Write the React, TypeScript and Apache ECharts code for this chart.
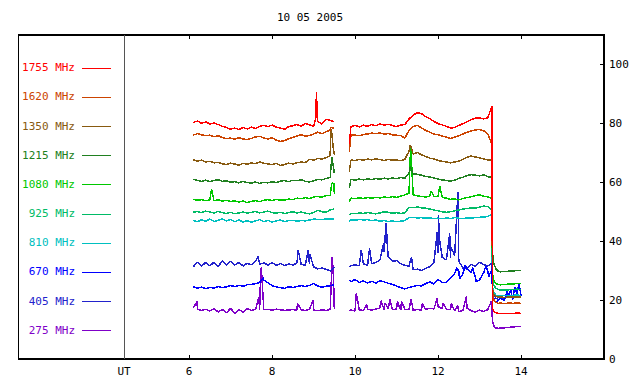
import { useEffect, useRef } from "react";
import * as echarts from "echarts";

const TITLE = "10 05 2005";
const X_TICKS = [6, 8, 10, 12, 14];
const Y_TICKS = [0, 20, 40, 60, 80, 100];
const NAMES = ["1755 MHz", "1620 MHz", "1350 MHz", "1215 MHz", "1080 MHz", "925 MHz", "810 MHz", "670 MHz", "405 MHz", "275 MHz"];
const COLORS = ["#ff0000", "#cc4400", "#885a10", "#208020", "#00c800", "#00bb66", "#00c0c0", "#0000ff", "#2222cc", "#7f00c8"];

// time stamps (UT hours)
const T1 = [6.1, 6.2, 6.3, 6.4, 6.5, 6.6, 6.7, 6.8, 6.9, 7.0, 7.1, 7.2, 7.3, 7.4, 7.5, 7.6, 7.7, 7.8, 7.9, 8.0, 8.1, 8.2, 8.3, 8.4, 8.5, 8.6, 8.7, 8.8, 8.9, 9.0, 9.1, 9.2, 9.3, 9.4, 9.5];
const T2 = [9.86, 9.9, 10.0, 10.1, 10.2, 10.3, 10.4, 10.5, 10.6, 10.7, 10.8, 10.9, 11.0, 11.1, 11.2, 11.3, 11.4, 11.5, 11.6, 11.7, 11.8, 11.9, 12.0, 12.1, 12.2, 12.3, 12.4, 12.5, 12.6, 12.7, 12.8, 12.9, 13.0, 13.1, 13.2, 13.3];
const T3 = [13.31, 13.35, 13.4, 13.45, 13.5, 13.6, 13.7, 13.8, 13.9, 14.0];
const GAP_T = 9.7;

// 1755 MHz
const A1755 = [80.3, 80.8, 80.0, 80.5, 79.8, 80.1, 79.6, 79.0, 78.6, 78.0, 78.4, 77.9, 78.6, 78.1, 78.7, 78.3, 79.0, 79.3, 78.9, 79.4, 78.7, 78.4, 78.0, 78.9, 79.2, 79.6, 79.1, 79.9, 79.5, 79.0, 80.6, 79.8, 81.4, 81.0, 80.6];
const B1755 = [73.0, 78.9, 79.3, 78.8, 79.4, 79.0, 79.6, 79.2, 79.8, 79.4, 79.7, 79.3, 78.9, 79.4, 79.6, 81.5, 82.8, 83.6, 83.3, 82.3, 81.6, 80.7, 79.9, 79.5, 79.0, 78.4, 78.6, 79.3, 79.9, 80.6, 81.3, 81.8, 81.9, 81.5, 81.9, 85.9];
const C1755 = [17.0, 16.2, 15.6, 15.5, 15.4, 15.5, 15.5, 15.4, 15.6, 15.5];
const S1755 = [[9.05, 81.8], [9.07, 90.8], [9.09, 81.2]];

// 1620 MHz
const A1620 = [76.0, 76.5, 76.1, 75.8, 76.0, 75.5, 75.8, 75.2, 74.8, 75.0, 74.6, 75.1, 74.7, 74.5, 74.9, 75.4, 75.6, 75.0, 74.7, 75.1, 74.3, 73.9, 74.1, 74.8, 75.2, 75.7, 76.2, 75.6, 75.9, 76.4, 77.0, 76.5, 77.1, 77.8, 78.4];
const B1620 = [70.4, 76.1, 76.0, 75.8, 76.2, 76.4, 76.7, 76.5, 76.8, 76.3, 76.6, 76.1, 76.0, 75.8, 75.0, 77.6, 78.9, 79.3, 78.5, 77.6, 77.0, 76.4, 76.1, 75.7, 75.3, 74.9, 75.3, 75.8, 76.4, 77.0, 77.4, 77.8, 77.9, 77.5, 76.4, 72.7];
const C1620 = [22.0, 19.8, 19.2, 18.9, 19.0, 18.8, 19.0, 18.9, 19.0, 18.9];
const S1620 = [[9.42, 78.6]];

// 1350 MHz
const A1350 = [67.6, 67.2, 67.5, 66.9, 67.1, 66.6, 66.8, 66.3, 66.0, 66.5, 66.2, 65.8, 66.4, 66.1, 66.6, 66.3, 66.9, 66.5, 66.2, 66.0, 66.4, 65.7, 66.0, 66.5, 66.2, 66.6, 66.9, 66.7, 67.8, 67.5, 68.1, 67.9, 68.3, 69.0, 69.3];
const B1350 = [63.6, 67.6, 67.3, 67.8, 67.5, 67.9, 67.6, 68.0, 67.7, 67.4, 67.8, 67.5, 67.6, 67.3, 67.8, 70.5, 69.6, 70.1, 69.3, 68.8, 68.2, 67.9, 67.4, 67.1, 66.9, 66.6, 66.9, 67.2, 67.8, 68.5, 68.9, 68.6, 68.3, 67.9, 67.6, 67.5];
const C1350 = [24.0, 21.8, 21.3, 21.0, 21.1, 20.9, 21.0, 21.1, 21.0, 21.1];
const S1350 = [[9.41, 78.4], [9.44, 76.5], [9.47, 72.0], [11.33, 72.7]];

// 1215 MHz
const A1215 = [61.0, 60.6, 60.3, 60.7, 60.2, 60.6, 60.9, 60.3, 60.5, 60.0, 60.2, 59.8, 60.3, 59.9, 59.7, 60.1, 59.6, 60.0, 59.8, 60.2, 59.9, 60.4, 60.6, 60.2, 60.7, 60.5, 60.9, 60.3, 60.1, 60.5, 61.0, 60.8, 61.3, 61.6, 63.0];
const B1215 = [58.0, 61.0, 60.7, 61.1, 60.8, 61.2, 60.9, 61.3, 61.0, 61.4, 61.1, 61.5, 61.2, 61.6, 61.4, 63.2, 62.9, 62.7, 62.4, 62.0, 61.8, 61.5, 61.1, 60.8, 60.6, 60.4, 60.7, 61.3, 61.7, 62.3, 62.6, 62.4, 62.2, 62.5, 61.9, 61.6];
const C1215 = [36.0, 32.0, 30.5, 29.8, 29.6, 29.7, 29.8, 29.9, 30.0, 30.1];
const S1215 = [[9.44, 68.5], [9.48, 65.0], [11.33, 65.3]];

// 1080 MHz
const A1080 = [54.2, 53.9, 54.1, 53.8, 54.0, 53.7, 54.1, 53.6, 53.9, 53.5, 53.7, 53.3, 53.6, 53.1, 53.5, 53.8, 53.4, 53.9, 54.1, 53.8, 54.2, 53.9, 54.0, 54.3, 54.1, 54.6, 54.4, 54.8, 54.5, 55.0, 55.2, 54.9, 55.5, 55.6, 56.0];
const B1080 = [53.4, 54.6, 54.4, 54.7, 54.5, 54.8, 54.6, 54.9, 54.7, 55.0, 54.8, 55.1, 54.9, 55.3, 55.7, 56.3, 55.7, 55.4, 55.2, 55.0, 55.3, 55.1, 55.3, 54.9, 54.6, 54.2, 54.4, 54.0, 54.5, 54.8, 55.1, 55.5, 55.7, 55.3, 55.0, 54.6];
const C1080 = [29.0, 26.5, 25.6, 25.3, 25.2, 25.3, 25.4, 25.5, 25.6, 25.7];
const S1080 = [[6.54, 57.7], [9.44, 59.8], [9.49, 59.5], [11.34, 72.7], [11.84, 57.0], [12.04, 58.6]];

// 925 MHz
const A925 = [49.8, 50.1, 49.7, 50.2, 49.9, 49.6, 50.1, 49.7, 49.4, 49.8, 49.3, 49.6, 49.9, 49.5, 49.8, 50.1, 49.6, 49.9, 50.2, 49.7, 49.5, 49.8, 49.4, 49.7, 50.0, 49.6, 49.9, 49.5, 49.3, 49.7, 50.5, 50.0, 49.8, 50.6, 50.9];
const B925 = [48.9, 49.5, 49.3, 49.6, 49.4, 49.7, 49.5, 49.3, 49.6, 50.0, 49.8, 49.5, 49.7, 49.4, 49.6, 51.5, 51.4, 51.6, 51.3, 51.2, 50.9, 50.6, 50.3, 50.0, 49.8, 50.0, 50.3, 50.6, 50.9, 51.1, 51.3, 51.2, 51.6, 51.9, 51.7, 50.6];
const C925 = [27.0, 24.8, 24.0, 23.6, 23.4, 23.5, 23.5, 23.6, 23.7, 23.6];
const S925: number[][] = [];

// 810 MHz
const A810 = [47.0, 46.6, 47.3, 46.8, 47.5, 46.7, 47.1, 47.6, 46.9, 47.4, 46.6, 47.2, 46.5, 47.0, 46.4, 46.9, 47.3, 46.6, 47.1, 46.5, 46.9, 47.2, 46.6, 47.0, 47.1, 46.8, 47.0, 46.9, 47.2, 47.5, 47.4, 47.4, 47.5, 47.6, 47.6];
const B810 = [46.6, 47.3, 47.1, 47.4, 47.2, 47.3, 47.0, 47.2, 46.8, 47.0, 46.7, 46.9, 46.6, 46.8, 47.0, 48.0, 48.1, 47.9, 48.0, 47.8, 47.9, 47.7, 47.8, 47.6, 47.9, 47.7, 48.0, 47.8, 47.7, 47.9, 47.8, 48.0, 48.1, 48.2, 48.4, 49.2];
const C810 = [24.5, 22.5, 21.5, 21.3, 21.4, 21.5, 21.5, 21.6, 21.7, 21.6];
const S810: number[][] = [];

// 670 MHz
const A670 = [24.5, 24.0, 24.4, 23.9, 24.3, 24.1, 24.6, 24.2, 24.5, 24.9, 24.6, 25.0, 24.7, 25.2, 25.3, 25.6, 26.0, 26.8, 25.9, 24.9, 24.5, 24.2, 24.0, 24.5, 24.3, 24.6, 24.9, 24.6, 25.0, 25.6, 24.8, 24.4, 24.7, 24.9, 25.2];
const B670 = [26.8, 26.2, 27.0, 26.0, 26.5, 25.8, 26.4, 25.7, 26.6, 26.2, 25.7, 25.3, 24.8, 24.2, 23.8, 24.3, 24.6, 25.0, 24.8, 25.6, 26.2, 25.5, 27.0, 26.0, 26.0, 27.5, 29.0, 29.8, 28.9, 30.6, 29.2, 27.8, 26.9, 29.3, 29.9, 30.4];
const C670 = [23.0, 20.0, 19.2, 19.8, 20.6, 19.9, 21.3, 20.2, 22.0, 21.5];
const S670 = [[7.79, 27.6], [12.45, 31.0], [12.52, 27.2], [12.65, 31.8], [12.83, 31.0], [12.92, 26.2], [13.15, 31.5], [13.22, 28.0], [13.67, 23.0], [13.75, 23.5], [13.85, 24.5], [13.95, 25.5]];

// 405 MHz
const A405 = [31.3, 32.9, 31.5, 32.8, 31.6, 32.9, 31.4, 33.3, 31.8, 33.2, 31.9, 32.8, 31.6, 32.5, 32.0, 33.1, 32.2, 32.6, 31.9, 32.7, 31.8, 32.4, 31.7, 32.3, 31.9, 32.6, 32.1, 31.8, 32.4, 31.3, 30.6, 30.9, 30.5, 29.9, 31.2];
const B405 = [31.4, 31.7, 32.0, 31.6, 32.3, 31.8, 32.4, 32.8, 33.6, 36.5, 34.6, 33.2, 33.4, 32.4, 31.8, 31.5, 30.3, 30.5, 30.0, 30.8, 31.3, 32.8, 35.9, 34.5, 33.6, 34.3, 35.2, 33.2, 30.9, 30.6, 32.2, 31.4, 32.9, 32.0, 31.6, 32.5];
const C405 = [25.0, 21.5, 20.6, 20.2, 20.5, 20.8, 21.2, 21.0, 21.4, 21.3];
const S405 = [[7.66, 34.9], [8.63, 37.0], [8.87, 37.0], [8.91, 35.5], [10.15, 37.0], [10.35, 37.5], [10.69, 39.5], [10.75, 46.3], [10.78, 38.0], [11.36, 34.7], [11.98, 43.0], [12.01, 49.0], [12.03, 41.0], [12.28, 42.7], [12.31, 38.0], [12.48, 56.8]];

// 275 MHz
const A275 = [17.3, 16.9, 16.5, 16.9, 16.3, 17.1, 16.0, 16.8, 15.7, 17.2, 15.5, 16.9, 15.8, 17.1, 16.5, 16.8, 16.7, 16.9, 16.8, 16.6, 16.9, 16.7, 16.5, 16.6, 16.8, 16.6, 16.7, 16.5, 16.8, 16.6, 16.4, 16.7, 16.5, 16.8, 17.0];
const B275 = [16.3, 16.6, 16.3, 16.7, 16.5, 16.9, 16.6, 17.0, 17.3, 16.8, 17.1, 16.7, 17.0, 16.6, 16.9, 16.7, 16.5, 16.8, 16.6, 16.9, 17.2, 17.0, 17.8, 17.1, 16.9, 16.7, 16.4, 16.0, 16.5, 17.2, 16.4, 15.9, 16.6, 16.1, 16.8, 17.3];
const C275 = [13.0, 11.0, 10.5, 10.4, 10.5, 10.6, 10.7, 10.9, 11.0, 11.1];
const S275 = [[6.19, 19.5], [7.68, 20.9], [7.71, 23.0], [7.74, 31.1], [8.61, 18.9], [8.99, 20.0], [9.45, 34.7], [9.48, 27.5], [10.03, 22.3], [10.28, 18.5], [10.62, 19.8], [10.72, 19.0], [10.84, 20.2], [11.02, 19.5], [11.12, 19.6], [11.35, 20.4], [11.62, 18.8], [11.98, 20.5], [12.12, 19.0], [12.32, 18.8], [12.47, 18.2], [12.68, 21.2], [13.28, 19.5]];

const SERIES_A = [A1755, A1620, A1350, A1215, A1080, A925, A810, A670, A405, A275];
const SERIES_B = [B1755, B1620, B1350, B1215, B1080, B925, B810, B670, B405, B275];
const SERIES_C = [C1755, C1620, C1350, C1215, C1080, C925, C810, C670, C405, C275];
const SERIES_S = [S1755, S1620, S1350, S1215, S1080, S925, S810, S670, S405, S275];

const FONT = '11px "DejaVu Sans Mono", monospace';

function buildPoints(i: number): (number | null)[][] {
  const pts: (number | null)[][] = [];
  T1.forEach((t, k) => pts.push([t, SERIES_A[i][k]]));
  T2.forEach((t, k) => pts.push([t, SERIES_B[i][k]]));
  T3.forEach((t, k) => pts.push([t, SERIES_C[i][k]]));
  SERIES_S[i].forEach((p) => pts.push([p[0], p[1]]));
  pts.push([GAP_T, null]);
  pts.sort((a, b) => (a[0] as number) - (b[0] as number));
  return pts;
}

export default function App() {
  const ref = useRef<HTMLDivElement>(null);
  useEffect(() => {
    if (!ref.current) return;
    const chart = echarts.init(ref.current, undefined, { renderer: "svg" });
    const legendGraphics: any[] = [];
    NAMES.forEach((name, i) => {
      const y = 67.7 + i * 29.18;
      const ly = Math.round(y) + 0.5;
      legendGraphics.push({
        type: "text",
        silent: true,
        style: { text: name, x: 75, y, fill: COLORS[i], font: FONT, textAlign: "right", textVerticalAlign: "middle", verticalAlign: "middle" },
      });
      legendGraphics.push({
        type: "line",
        silent: true,
        shape: { x1: 82, y1: ly, x2: 111, y2: ly },
        style: { stroke: COLORS[i], lineWidth: 1 },
      });
    });
    const series: any[] = [];
    for (let i = NAMES.length - 1; i >= 0; i--) {
      series.push({
        type: "line",
        name: NAMES[i],
        data: buildPoints(i),
        showSymbol: false,
        symbol: "none",
        connectNulls: false,
        lineStyle: { color: COLORS[i], width: 1.5 },
        itemStyle: { color: COLORS[i] },
        silent: true,
      });
    }
    const xCommon = {
      type: "value",
      min: 4.43,
      max: 16,
      splitLine: { show: false },
      axisLine: { show: false },
    };
    chart.setOption({
      animation: false,
      backgroundColor: "#ffffff",
      grid: { left: 124, top: 35, width: 480, height: 324, containLabel: false },
      xAxis: [
        {
          ...xCommon,
          position: "bottom",
          axisTick: { show: true, inside: true, length: 4, customValues: X_TICKS, lineStyle: { color: "#000", width: 1.2 } },
          axisLabel: { show: true, customValues: X_TICKS, color: "#000", fontFamily: '"DejaVu Sans Mono", monospace', fontSize: 11, margin: 7 },
        },
        {
          ...xCommon,
          position: "top",
          axisTick: { show: true, inside: true, length: 4, customValues: X_TICKS, lineStyle: { color: "#000", width: 1.2 } },
          axisLabel: { show: false },
        },
      ],
      yAxis: {
        type: "value",
        position: "right",
        min: 0,
        max: 110,
        splitLine: { show: false },
        axisLine: { show: false },
        axisTick: { show: true, inside: true, length: 4, customValues: Y_TICKS, lineStyle: { color: "#000", width: 1.2 } },
        axisLabel: { show: true, customValues: Y_TICKS, color: "#000", fontFamily: '"DejaVu Sans Mono", monospace', fontSize: 11, margin: 5 },
      },
      graphic: [
        {
          type: "rect",
          silent: true,
          z: 100,
          shape: { x: 18.5, y: 35, width: 585.5, height: 324 },
          style: { fill: "none", stroke: "#000", lineWidth: 1.5 },
        },
        {
          type: "line",
          silent: true,
          z: 100,
          shape: { x1: 124.3, y1: 35, x2: 124.3, y2: 359 },
          style: { stroke: "#555", lineWidth: 1.2 },
        },
        {
          type: "text",
          silent: true,
          style: { text: TITLE, x: 310, y: 17, fill: "#000", font: FONT, textAlign: "center", textVerticalAlign: "middle", verticalAlign: "middle" },
        },
        {
          type: "text",
          silent: true,
          style: { text: "UT", x: 124, y: 371, fill: "#000", font: FONT, textAlign: "center", textVerticalAlign: "middle", verticalAlign: "middle" },
        },
        ...legendGraphics,
      ],
      series,
    });
    return () => chart.dispose();
  }, []);
  return (
    <>
      <style>{`.rs-chart svg path { shape-rendering: crispEdges; }`}</style>
      <div className="rs-chart" ref={ref} style={{ position: "absolute", left: 0, top: 0, width: 640, height: 384 }} />
    </>
  );
}
